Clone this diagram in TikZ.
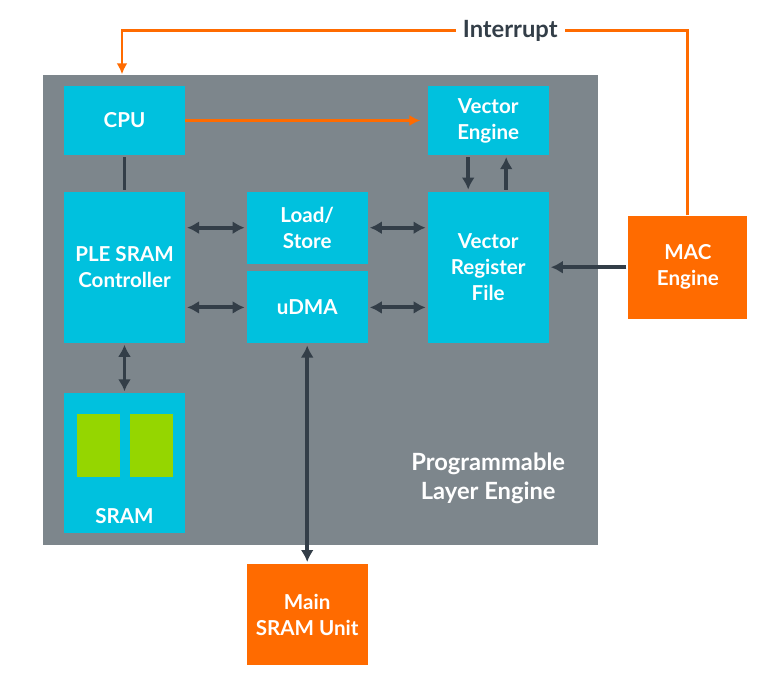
\documentclass[tikz,border=0pt]{standalone}
\usepackage{fontspec}
\setmainfont{Lato}
\usepackage{tikz}
\usetikzlibrary{arrows.meta, positioning, fit, calc, backgrounds}
\definecolor{armcyan}{HTML}{00C1DE}
\definecolor{armorange}{HTML}{FF6B00}
\definecolor{armgray}{HTML}{7D868C}
\definecolor{armgreen}{HTML}{95D600}
\definecolor{armdark}{HTML}{333E48}

\begin{document}
\begin{tikzpicture}[
    box/.style={rectangle, fill=armcyan, text=white, minimum width=2.42cm, minimum height=1.38cm, inner sep=0pt, align=center, font=\fontsize{11.7}{14.8}\selectfont\bfseries},
    ext/.style={box, fill=armorange},
    cell/.style={rectangle, fill=armgreen, minimum width=0.87cm, minimum height=1.26cm, inner sep=0pt},
    title/.style={align=center, font=\fontsize{13.5}{16.5}\selectfont\bfseries},
    link/.style={line width=2.2pt, draw=armdark, shorten <=1pt, shorten >=1pt},
    sig/.style={line width=1.7pt, draw=armorange, ->, >={Latex[length=0.22cm, width=0.22cm]}},
    >={Latex[length=0.24cm, width=0.26cm]}
]
    \useasboundingbox (-2.49,-11.15) rectangle (12.65,2.41);

    % Nodes
    \node[box] (cpu) {CPU};
    \node[box, right=4.84cm of cpu] (ve) {Vector\\Engine};
    \node[box, below=0.72cm of cpu, minimum height=3.02cm] (ctrl) {PLE SRAM\\Controller};
    \node[box, right=1.22cm of ctrl.north east, anchor=north west, minimum height=1.44cm] (ls) {Load/\\Store};
    \node[box, below=0.14cm of ls, minimum height=1.44cm] (udma) {uDMA};
    \node[box, below=0.72cm of ve, minimum height=3.02cm] (vrf) {Vector\\Register\\File};
    \node[ext, right=1.58cm of vrf, minimum width=2.38cm, minimum height=2.06cm] (mac) {MAC\\Engine};
    \node[box, below=1.0cm of ctrl, minimum height=2.8cm] (sram) {};
    \node[cell] (bank1) at ($(sram.north)+(-0.52,-1.05)$) {};
    \node[cell, right=0.18cm of bank1] (bank2) {};
    \node[box, minimum width=0pt, minimum height=0pt, fill=none, above=0.2cm of sram.south] (sramlbl) {SRAM};
    \node[ext, below=4.4cm of udma, minimum height=2.02cm] (mainsram) {Main\\SRAM Unit};

    % Engine block
    \coordinate (blknw) at ($(cpu.north west)+(-0.42,0.22)$);
    \coordinate (blkse) at ($(sram.south -| ve.east)+(0.98,-0.22)$);
    \begin{scope}[on background layer]
        \node[fit=(blknw)(blkse), inner sep=0pt, fill=armgray] (block) {};
    \end{scope}
    \node[title, text=white] (blklbl) at ($(vrf.south)+(0,-2.7)$) {Programmable\\Layer Engine};

    % Paths
    \coordinate (irq) at ($(cpu.north)+(-0.05,1.1)$);
    \draw[sig] (mac.north) |- node[pos=0.657, fill=white, text=armdark, title, inner xsep=0.14cm] {Interrupt} (irq) -- (irq |- block.north);
    \draw[sig, shorten >=0.14cm] (cpu) -- (ve);
    \draw[link] (cpu) -- (ctrl);
    \draw[link, <->] (ctrl.east |- ls) -- (ls);
    \draw[link, <->] (ls) -- (vrf.west |- ls);
    \draw[link, <->] (ctrl.east |- udma) -- (udma);
    \draw[link, <->] (udma) -- (vrf.west |- udma);
    \draw[link, ->] ([xshift=-0.4cm]ve.south) -- ([xshift=-0.4cm]vrf.north);
    \draw[link, ->] ([xshift=0.36cm]vrf.north) -- ([xshift=0.36cm]ve.south);
    \draw[link, ->] (mac) -- (vrf);
    \draw[link, <->] (ctrl) -- (sram);
    \draw[link, <->] (udma) -- (mainsram);
\end{tikzpicture}
\end{document}
